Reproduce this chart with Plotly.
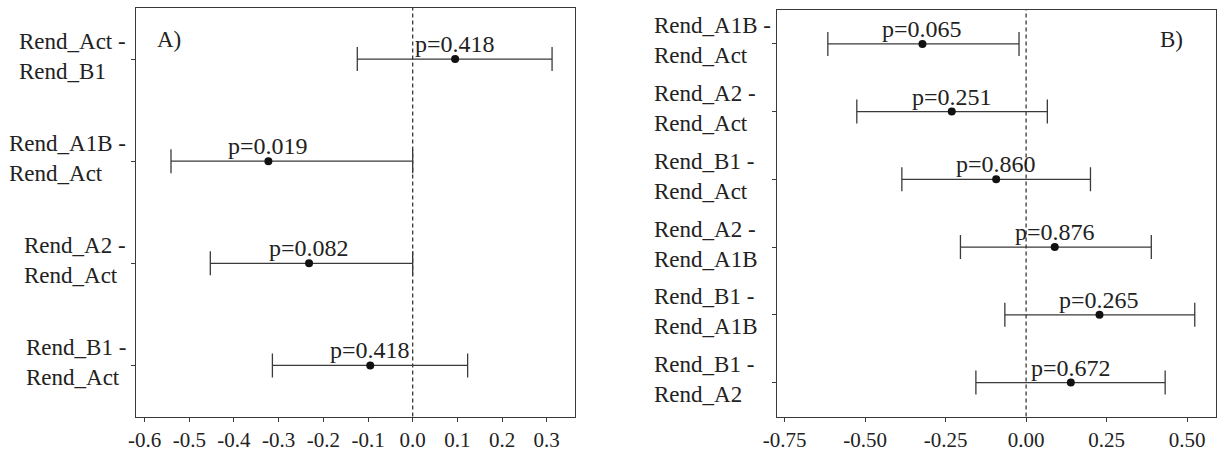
import plotly.graph_objects as go

# ---------------- data ----------------
left_labels = ["Rend_Act -<br>Rend_B1", "Rend_A1B -<br>Rend_Act",
               "Rend_A2 -<br>Rend_Act", "Rend_B1 -<br>Rend_Act"]
left_diff = [0.095, -0.323, -0.232, -0.095]
left_lwr = [-0.124, -0.541, -0.453, -0.314]
left_upr = [0.312, 0.000, 0.000, 0.123]
left_p = ["p=0.418", "p=0.019", "p=0.082", "p=0.418"]
left_ticks = [-0.6, -0.5, -0.4, -0.3, -0.2, -0.1, 0.0, 0.1, 0.2, 0.3]
left_ticktext = ["-0.6", "-0.5", "-0.4", "-0.3", "-0.2", "-0.1", "0.0", "0.1", "0.2", "0.3"]

right_labels = ["Rend_A1B -<br>Rend_Act", "Rend_A2 -<br>Rend_Act", "Rend_B1 -<br>Rend_Act",
                "Rend_A2 -<br>Rend_A1B", "Rend_B1 -<br>Rend_A1B", "Rend_B1 -<br>Rend_A2"]
right_diff = [-0.322, -0.231, -0.093, 0.089, 0.228, 0.139]
right_lwr = [-0.616, -0.526, -0.386, -0.204, -0.066, -0.156]
right_upr = [-0.022, 0.066, 0.200, 0.389, 0.524, 0.432]
right_p = ["p=0.065", "p=0.251", "p=0.860", "p=0.876", "p=0.265", "p=0.672"]
right_ticks = [-0.75, -0.50, -0.25, 0.00, 0.25, 0.50]
right_ticktext = ["-0.75", "-0.50", "-0.25", "0.00", "0.25", "0.50"]

panel_tags = ["A)", "B)"]

# ---------------- style ----------------
W, H = 1217, 451
FONT = "Liberation Serif, Times New Roman, serif"
TXT = "#222222"
LINE = "#3a3a3a"
FS = 23
FST = 21
FSP = 24

def px(v):
    return v / W

def py(v):
    return 1 - v / H

fig = go.Figure()

panels = [
    dict(lab=left_labels, d=left_diff, lo=left_lwr, hi=left_upr, p=left_p,
         xa="x", ya="y", xdom=[px(135.7), px(575.3)], ydom=[py(416.5), py(8)],
         xr=[-0.620, 0.364], ticks=left_ticks, tt=left_ticktext),
    dict(lab=right_labels, d=right_diff, lo=right_lwr, hi=right_upr, p=right_p,
         xa="x2", ya="y2", xdom=[px(777.3), px(1216.0)], ydom=[py(416.5), py(10)],
         xr=[-0.773, 0.590], ticks=right_ticks, tt=right_ticktext),
]

annotations = []
shapes = []
for i, P in enumerate(panels):
    n = len(P["lab"])
    ys = [n - k for k in range(n)]
    fig.add_trace(go.Scatter(
        x=P["d"], y=ys, mode="markers", xaxis=P["xa"], yaxis=P["ya"],
        marker=dict(size=8, color="#111111"),
        error_x=dict(type="data", symmetric=False,
                     array=[h - d for h, d in zip(P["hi"], P["d"])],
                     arrayminus=[d - l for d, l in zip(P["d"], P["lo"])],
                     color=LINE, thickness=1.3, width=12),
        showlegend=False, hoverinfo="skip"))
    shapes.append(dict(type="line", xref=P["xa"], yref=P["ya"] + " domain",
                       x0=0, x1=0, y0=0, y1=1,
                       line=dict(color=LINE, width=1.3, dash="4px,3px"), layer="below"))
    for x, y, t in zip(P["d"], ys, P["p"]):
        annotations.append(dict(x=x, y=y, xref=P["xa"], yref=P["ya"], text=t,
                                showarrow=False, xanchor="center", yanchor="bottom",
                                yshift=0, font=dict(family=FONT, size=FSP, color=TXT)))
    for y, t in zip(ys, P["lab"]):
        if i == 0:
            annotations.append(dict(x=P["xdom"][0], y=y, xref="paper", yref=P["ya"], text=t,
                                    showarrow=False, xanchor="right", yanchor="middle",
                                    xshift=-8, yshift=3, align="left",
                                    font=dict(family=FONT, size=FS, color=TXT)))
        else:
            annotations.append(dict(x=px(652), y=y, xref="paper", yref=P["ya"], text=t,
                                    showarrow=False, xanchor="left", yanchor="middle",
                                    yshift=3, align="left",
                                    font=dict(family=FONT, size=FS, color=TXT)))
    axis_common = dict(showline=True, mirror=True, linecolor=LINE, linewidth=1.3,
                       showgrid=False, zeroline=False, ticks="outside", tickcolor=LINE,
                       tickwidth=1.2, automargin=False)
    xkey = "xaxis" if i == 0 else "xaxis2"
    ykey = "yaxis" if i == 0 else "yaxis2"
    fig.update_layout(**{
        xkey: dict(domain=P["xdom"], range=P["xr"], anchor=P["ya"],
                   tickmode="array", tickvals=P["ticks"], ticktext=P["tt"], ticklen=4,
                   tickfont=dict(family=FONT, size=FST, color=TXT), **axis_common),
        ykey: dict(domain=P["ydom"], range=[0.5, n + 0.5], anchor=P["xa"],
                   tickmode="array", tickvals=ys, showticklabels=False, ticklen=4,
                   **axis_common),
    })

annotations.append(dict(x=px(155), y=py(39.5), xref="paper", yref="paper", text=panel_tags[0],
                        showarrow=False, xanchor="left", yanchor="middle",
                        font=dict(family=FONT, size=FS, color=TXT)))
annotations.append(dict(x=px(1158), y=py(39.5), xref="paper", yref="paper", text=panel_tags[1],
                        showarrow=False, xanchor="left", yanchor="middle",
                        font=dict(family=FONT, size=FS, color=TXT)))

fig.update_layout(width=W, height=H, autosize=False,
                  margin=dict(l=0, r=0, t=0, b=0, pad=0),
                  paper_bgcolor="white", plot_bgcolor="white",
                  annotations=annotations, shapes=shapes,
                  font=dict(family=FONT, size=FS, color=TXT))

fig.write_html("out.html", config={"displayModeBar": False},
               post_script="document.body.style.margin='0px';document.body.style.overflow='hidden';")
